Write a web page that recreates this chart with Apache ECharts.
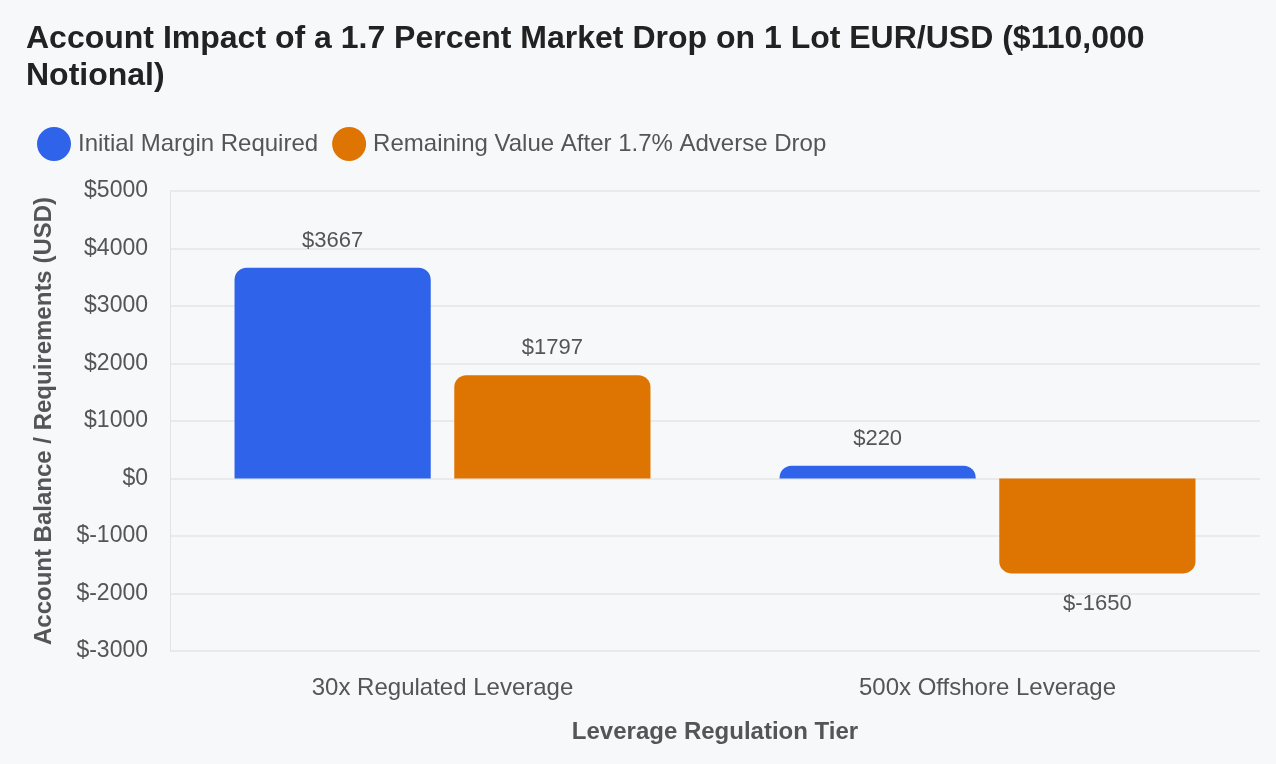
<!DOCTYPE html>
<html>
<head>
<meta charset="utf-8">
<script src="https://cdn.jsdelivr.net/npm/echarts@6/dist/echarts.min.js"></script>
<style>
html, body { margin: 0; padding: 0; background: #f7f8fa; }
#chart { width: 1276px; height: 764px; }
</style>
</head>
<body>
<div id="chart"></div>
<script>
// data
let categories = ["30x Regulated Leverage", "500x Offshore Leverage"];
let initialMargin = [3667, 220];
let remainingValue = [1797, -1650];
let yTicks = [-3000, 5000, 1000]; // min, max, interval

let chart = echarts.init(document.getElementById("chart"));

// negative bars get rounded bottom corners and label underneath
function barData(values) {
    return values.map(function (v) {
        let neg = v < 0;
        return {
            value: v,
            itemStyle: {borderRadius: neg ? [0, 0, 12, 12] : [12, 12, 0, 0]},
            label: {position: neg ? "bottom" : "top", distance: neg ? 20 : 16}
        };
    });
}

let labelStyle = {
    show: true,
    fontSize: 22,
    color: "#555",
    formatter: function (p) { return "$" + p.value; }
};

let option = {
    backgroundColor: "#f7f8fa",
    textStyle: {fontFamily: "Arial, Liberation Sans, sans-serif"},
    title: {
        text: "Account Impact of a 1.7 Percent Market Drop on 1 Lot EUR/USD ($110,000\nNotional)",
        left: 21,
        top: 16,
        textStyle: {fontSize: 32, fontWeight: "bold", color: "#222", lineHeight: 37}
    },
    legend: {
        left: 32,
        top: 122,
        icon: "circle",
        itemWidth: 34,
        itemHeight: 34,
        itemGap: 14,
        textStyle: {fontSize: 24, color: "#555", padding: [0, 0, 0, 2]},
        data: ["Initial Margin Required", "Remaining Value After 1.7% Adverse Drop"]
    },
    grid: {left: 170, right: 16, top: 191, bottom: 113},
    xAxis: {
        type: "category",
        data: categories,
        name: "Leverage Regulation Tier",
        nameLocation: "middle",
        nameGap: 69,
        nameTextStyle: {fontSize: 24, fontWeight: "bold", color: "#555"},
        axisLine: {show: false},
        axisTick: {show: false},
        axisLabel: {fontSize: 24, color: "#555", margin: 25}
    },
    yAxis: {
        type: "value",
        min: yTicks[0],
        max: yTicks[1],
        interval: yTicks[2],
        name: "Account Balance / Requirements (USD)",
        nameLocation: "middle",
        nameGap: 114,
        nameTextStyle: {fontSize: 24, fontWeight: "bold", color: "#555"},
        axisLine: {show: true, lineStyle: {color: "#e3e3e3"}},
        axisTick: {show: false},
        axisLabel: {
            fontSize: 23, color: "#555", margin: 22,
            formatter: function (v) { return "$" + v; }
        },
        splitLine: {lineStyle: {color: "#e6e6e6", width: 1.5}}
    },
    series: [
        {
            name: "Initial Margin Required",
            type: "bar",
            barWidth: "36%",
            barGap: "12%",
            itemStyle: {color: "#2f63e9"},
            label: labelStyle,
            data: barData(initialMargin)
        },
        {
            name: "Remaining Value After 1.7% Adverse Drop",
            type: "bar",
            barWidth: "36%",
            barGap: "12%",
            itemStyle: {color: "#de7402"},
            label: labelStyle,
            data: barData(remainingValue)
        }
    ]
};
chart.setOption(option);
</script>
</body>
</html>
